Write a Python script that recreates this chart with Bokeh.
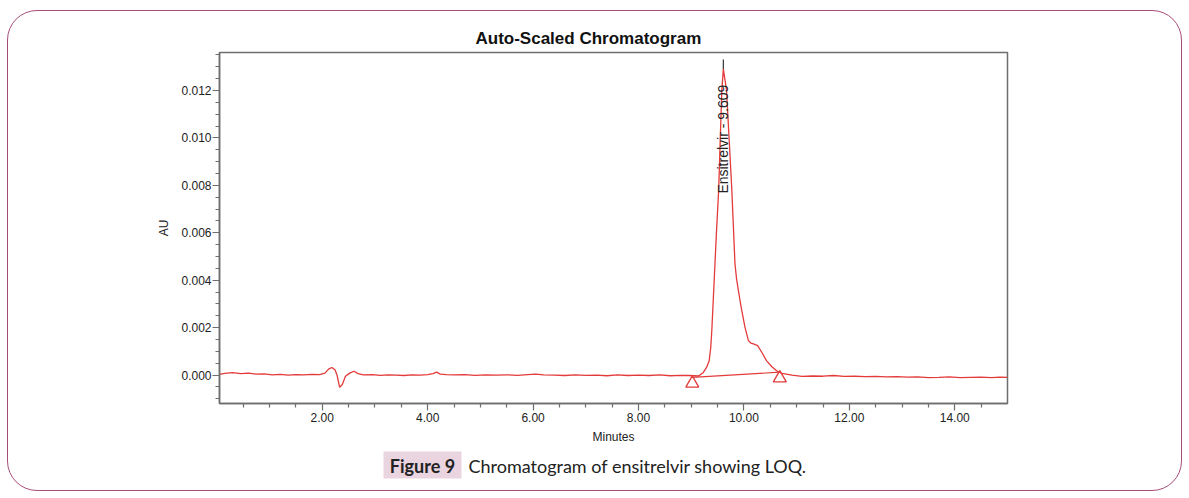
import math
from bokeh.plotting import figure
from bokeh.layouts import column
from bokeh.models import Range1d, FixedTicker, NumeralTickFormatter, Title, InlineStyleSheet
from bokeh.embed import file_html
from bokeh.resources import INLINE
from bokeh.core.properties import value

# ---- chromatogram trace (retention time in minutes, absorbance in AU) ----
time_min = [
    0.05, 0.15, 0.30, 0.45, 0.60, 0.75, 0.90, 1.05, 1.20, 1.35, 1.50, 1.65, 1.80, 1.95,
    2.05, 2.12, 2.18, 2.24, 2.28, 2.33, 2.38, 2.44, 2.52, 2.60, 2.68, 2.78, 2.95,
    3.10, 3.25, 3.40, 3.55, 3.70, 3.85, 4.00, 4.10, 4.17, 4.24, 4.35, 4.50, 4.70,
    4.90, 5.10, 5.30, 5.50, 5.70, 5.90, 6.05, 6.20, 6.40, 6.60, 6.80, 7.00, 7.20,
    7.40, 7.60, 7.80, 8.00, 8.20, 8.40, 8.60, 8.80, 8.95, 9.05, 9.14,
    9.23, 9.29, 9.34, 9.37, 9.39, 9.42, 9.45, 9.48, 9.52, 9.55, 9.58, 9.609, 9.67,
    9.72, 9.77, 9.81, 9.83, 9.86, 9.895, 9.93, 9.96, 10.02, 10.085, 10.13, 10.18, 10.26, 10.34, 10.43,
    10.53, 10.62, 10.72, 10.91, 11.10, 11.30, 11.50, 11.70,
    11.90, 12.10, 12.30, 12.50, 12.70, 12.90, 13.10, 13.30, 13.50, 13.70, 13.90,
    14.10, 14.30, 14.50, 14.70, 14.85, 15.00,
]
signal_au = [
    0.00003, 0.00007, 0.00010, 0.00006, 0.00008, 0.00004, 0.00005, 0.00001, 0.00003, 0.00000, 0.00002, 0.00001, 0.00003, 0.00002,
    0.00008, 0.00025, 0.00032, 0.00022, 0.00000, -0.00052, -0.00040, -0.00005, 0.00008, 0.00016, 0.00006, 0.00001, 0.00002,
    -0.00001, 0.00001, 0.00000, -0.00002, 0.00001, 0.00000, 0.00002, 0.00006, 0.00012, 0.00004, 0.00002, 0.00001, 0.00002,
    -0.00001, 0.00001, 0.00000, 0.00001, -0.00001, 0.00002, 0.00004, 0.00001, 0.00000, -0.00002, 0.00001, -0.00001, 0.00000,
    -0.00003, 0.00001, -0.00002, 0.00000, -0.00002, 0.00001, -0.00003, -0.00001, -0.00002, -0.00003, -0.00004,
    0.00011, 0.00032, 0.00060, 0.00116, 0.00187, 0.00327, 0.00468, 0.00610, 0.00778, 0.00990, 0.01200, 0.01290, 0.01200,
    0.00990, 0.00780, 0.00570, 0.00468, 0.00405, 0.00356, 0.00308, 0.00271, 0.00201, 0.00145, 0.00135, 0.00131, 0.00124, 0.00095, 0.00060,
    0.00035, 0.00018, 0.00007, 0.00000, -0.00006, -0.00004, -0.00005, -0.00002,
    -0.00006, -0.00005, -0.00007, -0.00006, -0.00008, -0.00007, -0.00009, -0.00008, -0.00011, -0.00010, -0.00008,
    -0.00011, -0.00010, -0.00009, -0.00011, -0.00009, -0.00010,
]

# ---- integrated peak ----
peak_name = "Ensitrelvir"
peak_rt = 9.609
peak_apex_au = 0.0129
apex_marker_top_au = 0.0133
peak_label_start_au = 0.00765
integration_time = [9.02, 10.68]
integration_au = [-0.00010, 0.00012]

# ---- axes ----
x_range = (0.05, 15.0)
y_range = (-0.0012, 0.0136)
x_major_ticks = [2, 4, 6, 8, 10, 12, 14]
x_minor_ticks = [0.5, 1.0, 1.5, 2.5, 3.0, 3.5, 4.5, 5.0, 5.5, 6.5, 7.0, 7.5, 8.5, 9.0, 9.5,
                 10.5, 11.0, 11.5, 12.5, 13.0, 13.5, 14.5]
y_major_ticks = [0.000, 0.002, 0.004, 0.006, 0.008, 0.010, 0.012]
y_minor_ticks = [-0.001, -0.0005, 0.0005, 0.001, 0.0015, 0.0025, 0.003, 0.0035, 0.0045, 0.005,
                 0.0055, 0.0065, 0.007, 0.0075, 0.0085, 0.009, 0.0095, 0.0105, 0.011, 0.0115,
                 0.0125, 0.013, 0.0135]

chart_title = "Auto-Scaled Chromatogram"
x_label = "Minutes"
y_label = "AU"
fig_tag = "Figure 9"
fig_caption = "Chromatogram of ensitrelvir showing LOQ."

# ---- page geometry ----
W, H = 1189, 498
CHART_H = 448
F_LEFT, F_RIGHT, F_TOP, F_BOTTOM = 219, 1007, 52, 403

TRACE = "#e33a3a"
AXIS = "#6e6e6e"
INK = "#222222"
TAG_FILL = "#e9d4e0"
SANS = "Liberation Sans"
CAP_FONT = "Lato"

p = figure(
    width=W, height=CHART_H, output_backend="svg", toolbar_location=None,
    x_range=Range1d(*x_range), y_range=Range1d(*y_range),
    min_border_left=F_LEFT, min_border_right=W - F_RIGHT,
    min_border_top=F_TOP, min_border_bottom=CHART_H - F_BOTTOM,
)
p.title = Title(text=chart_title, align="left", offset=256, standoff=10,
                text_font=SANS, text_font_size="17px", text_font_style="bold",
                text_color="#111111")
p.background_fill_color = "white"
p.border_fill_color = "white"
p.outline_line_color = AXIS
p.outline_line_width = 1.5
p.xgrid.visible = False
p.ygrid.visible = False

p.xaxis.ticker = FixedTicker(ticks=x_major_ticks, minor_ticks=x_minor_ticks)
p.yaxis.ticker = FixedTicker(ticks=y_major_ticks, minor_ticks=y_minor_ticks)
p.xaxis.formatter = NumeralTickFormatter(format="0.00")
p.yaxis.formatter = NumeralTickFormatter(format="0.000")
p.xaxis.axis_label = x_label
p.yaxis.axis_label = y_label
for ax in (p.xaxis, p.yaxis):
    ax.axis_line_color = AXIS
    ax.axis_line_width = 1.5
    ax.major_tick_line_color = AXIS
    ax.minor_tick_line_color = AXIS
    ax.major_tick_line_width = 1.2
    ax.minor_tick_line_width = 1.2
    ax.major_tick_in = 0
    ax.major_tick_out = 7
    ax.minor_tick_in = 0
    ax.minor_tick_out = 4
    ax.major_label_text_font = SANS
    ax.major_label_text_font_size = "12px"
    ax.major_label_text_color = INK
    ax.axis_label_text_font = SANS
    ax.axis_label_text_font_size = "12px"
    ax.axis_label_text_font_style = "normal"
    ax.axis_label_text_color = INK
p.xaxis.major_label_standoff = 2
p.yaxis.major_label_standoff = 1
p.xaxis.axis_label_standoff = 5
p.yaxis.axis_label_standoff = 7

# trace
p.line(time_min, signal_au, line_color=TRACE, line_width=1.3)

# integration baseline and peak boundary markers
p.line(integration_time, integration_au, line_color=TRACE, line_width=1.2)
au_per_px = (y_range[1] - y_range[0]) / (F_BOTTOM - F_TOP)
p.scatter(integration_time, [v - 6 * au_per_px for v in integration_au], marker="triangle",
          size=13, line_color=TRACE, line_width=1.3, fill_alpha=0)

# apex marker and peak label
p.segment(x0=[peak_rt], y0=[peak_apex_au], x1=[peak_rt], y1=[apex_marker_top_au],
          line_color="#333333", line_width=1.2)
p.text(x=[peak_rt], y=[peak_label_start_au], text=[f"{peak_name} - {peak_rt:.3f}"],
       angle=math.pi / 2, text_align="left", text_baseline="middle",
       text_font=value(SANS), text_font_size="14px", text_color=INK)

# ---- caption strip ----
# The column aligns this strip's frame with the chart frame, so its x range spans
# the chart frame's page pixels; y is in pixels from the strip top.
CAP_H = H - CHART_H
cap = figure(
    width=W, height=CAP_H, output_backend="svg", toolbar_location=None,
    x_range=Range1d(F_LEFT, F_RIGHT), y_range=Range1d(CAP_H, 0),
    min_border=0, x_axis_type=None, y_axis_type=None,
)
cap.outline_line_color = None
cap.background_fill_color = "white"
cap.border_fill_color = "white"
cap.xgrid.visible = False
cap.ygrid.visible = False
cap.quad(left=[383], right=[461], top=[451 - CHART_H], bottom=[478 - CHART_H],
         fill_color=TAG_FILL, line_alpha=0)
cap.text(x=[422], y=[465 - CHART_H], text=[fig_tag], text_align="center", text_baseline="middle",
         text_font=value(CAP_FONT), text_font_size="18px", text_font_style="bold", text_color=INK)
cap.text(x=[468], y=[465 - CHART_H], text=[fig_caption], text_align="left", text_baseline="middle",
         text_font=value(CAP_FONT), text_font_size="18px", text_color=INK)

# rounded frame around the whole figure panel
frame_css = InlineStyleSheet(css="""
:host { position: relative; }
:host::after {
  content: "";
  position: absolute;
  left: 7px; top: 10px; width: 1175px; height: 481px;
  box-sizing: border-box;
  border: 1.5px solid #a64d79;
  border-radius: 30px;
  pointer-events: none;
}
""")

page = column(p, cap, spacing=0, stylesheets=[frame_css])

open("out.html", "w").write(file_html(page, INLINE))
